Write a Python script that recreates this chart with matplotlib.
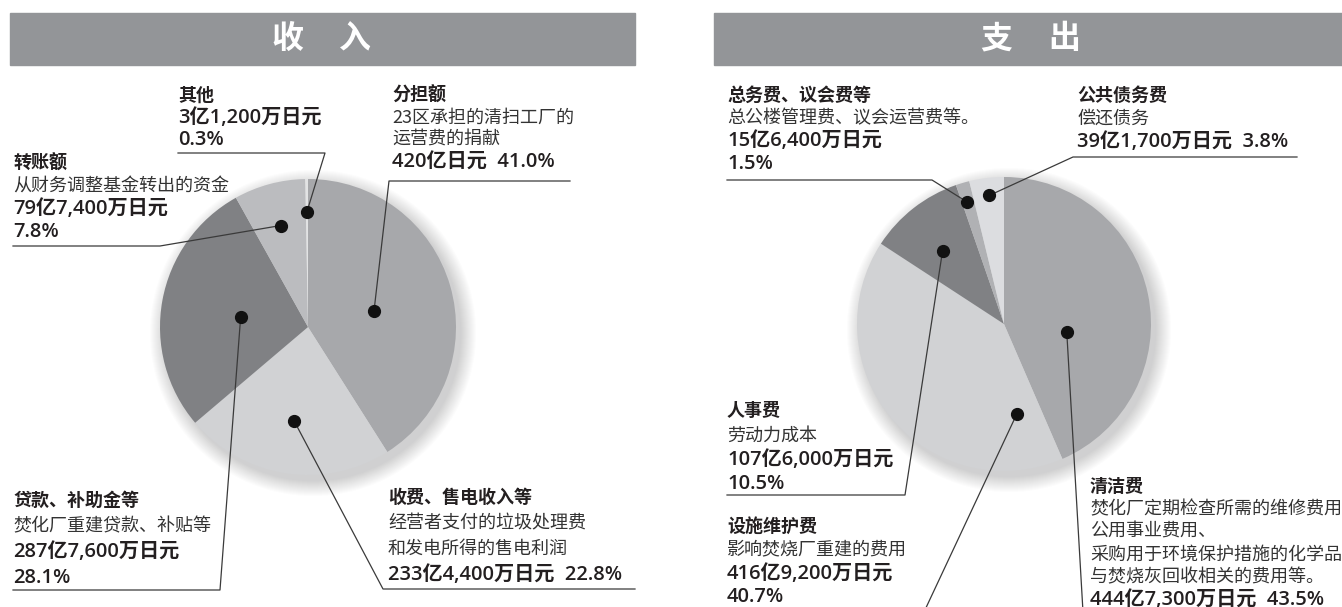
import matplotlib
matplotlib.use("Agg")
import matplotlib.pyplot as plt
from matplotlib.patches import Circle, Rectangle
import numpy as np

plt.rcParams['font.family'] = ['Noto Sans CJK SC', 'DejaVu Sans']

W, H = 1342, 607

# ---- data ----
income_names = ['分担额', '收费、售电收入等', '贷款、补助金等', '转账额', '其他']
income_pct = [41.0, 22.8, 28.1, 7.8, 0.3]
income_desc = [
    ['23区承担的清扫工厂的', '运营费的捐献'],
    ['经营者支付的垃圾处理费', '和发电所得的售电利润'],
    ['焚化厂重建贷款、补贴等'],
    ['从财务调整基金转出的资金'],
    [],
]
income_amount = [
    ['420亿日元  41.0%'],
    ['233亿4,400万日元  22.8%'],
    ['287亿7,600万日元', '28.1%'],
    ['79亿7,400万日元', '7.8%'],
    ['3亿1,200万日元', '0.3%'],
]

spend_names = ['清洁费', '设施维护费', '人事费', '总务费、议会费等', '公共债务费']
spend_pct = [43.5, 40.7, 10.5, 1.5, 3.8]
spend_desc = [
    ['焚化厂定期检查所需的维修费用', '公用事业费用、', '采购用于环境保护措施的化学品', '与焚烧灰回收相关的费用等。'],
    ['影响焚烧厂重建的费用'],
    ['劳动力成本'],
    ['总公楼管理费、议会运营费等。'],
    ['偿还债务'],
]
spend_amount = [
    ['444亿7,300万日元  43.5%'],
    ['416亿9,200万日元', '40.7%'],
    ['107亿6,000万日元', '10.5%'],
    ['15亿6,400万日元', '1.5%'],
    ['39亿1,700万日元  3.8%'],
]

# ---- styles / layout (pixel coords, y from top) ----
MID, LIGHT, DARK, GREYB, PALE = '#a7a8ab', '#d1d2d4', '#808184', '#bbbcbf', '#e2e3e4'
income_colors = [MID, LIGHT, DARK, GREYB, PALE]
spend_colors = [MID, LIGHT, DARK, '#b0b1b4', '#dcdde0']

# dot position: (angle clockwise from top in deg, fraction of radius)
income_dots = [(76, 0.46), (188.5, 0.64), (278.5, 0.46), (345, 0.71), (359.5, 0.78)]
spend_dots = [(97, 0.43), (172, 0.62), (320, 0.65), (343, 0.87), (353.4, 0.88)]

# text block: (x, first line centre y, line step); leader: elbow points then end
income_text = [(392, 95, 22.5), (388, 497, 26), (13, 500, 26), (13, 163, 23), (178, 95, 22.5)]
income_lead = [
    [(389, 181), (570, 181)],
    [(383, 589), (635, 589)],
    [(220, 590), (13, 590)],
    [(160, 246), (13, 246)],
    [(325, 153), (178, 153)],
]
spend_text = [(1090, 487, 22.5), (727, 526, 23.8), (727, 411, 24.3), (727, 95, 23), (1077, 95, 23.5)]
spend_lead = [
    [(1083, 612)],
    [(924, 612)],
    [(905, 495), (727, 495)],
    [(932, 180), (727, 180)],
    [(1073, 157), (1297, 157)],
]

AMOUNT_FONT = ['Open Sans', 'Noto Sans CJK SC', 'DejaVu Sans']

fig = plt.figure(figsize=(W / 100, H / 100), dpi=100)
ax = fig.add_axes([0, 0, 1, 1])


def Y(y):
    return H - y


def panel(title, x0, x1, tx_c, cx, cy, r, pct, colors, names, desc, amount, dots, text, lead):
    # title bar
    ax.add_patch(Rectangle((x0, Y(65)), x1 - x0, 52, color='#939598', zorder=1))
    for ch, off in zip(title, (-34, 34)):
        ax.text(tx_c + off, Y(39), ch, color='white', fontsize=23,
                fontweight='bold', ha='center', va='center', zorder=2)
    # soft shadow
    for i in range(16):
        ax.add_patch(Circle((cx + 5, Y(cy) - 6), r + 15 - i, color='#6d6e71',
                            alpha=0.02, lw=0, zorder=1))
    ax.pie(pct, colors=colors, startangle=90, counterclock=False,
           center=(cx, Y(cy)), radius=r, frame=True,
           wedgeprops=dict(linewidth=0, zorder=3))
    for i, name in enumerate(names):
        ang, fr = dots[i]
        a = np.deg2rad(ang)
        dx, dy = cx + fr * r * np.sin(a), Y(cy) + fr * r * np.cos(a)
        pts = [(dx, dy)] + [(px, Y(py)) for px, py in lead[i]]
        xs, ys = zip(*pts)
        ax.plot(xs, ys, color='#3a3a3a', lw=0.9, zorder=5, clip_on=False)
        ax.plot(dx, dy, 'o', color='#111111', ms=8.5, zorder=6)
        tx, ty, step = text[i]
        ax.text(tx, Y(ty), name, fontsize=13, fontweight='bold', color='#231f20',
                ha='left', va='center', zorder=7)
        k = 1
        for line in desc[i]:
            ax.text(tx, Y(ty + k * step), line, fontsize=13, color='#333333',
                    ha='left', va='center', zorder=7)
            k += 1
        for line in amount[i]:
            ax.text(tx, Y(ty + k * step), line, fontsize=14.5, fontweight='semibold',
                    family=AMOUNT_FONT, color='#231f20',
                    ha='left', va='center', zorder=7)
            k += 1


panel('收入', 10, 635, 321, 308, 327, 148, income_pct, income_colors, income_names,
      income_desc, income_amount, income_dots, income_text, income_lead)
panel('支出', 714, 1342, 1030, 1004, 324, 147, spend_pct, spend_colors, spend_names,
      spend_desc, spend_amount, spend_dots, spend_text, spend_lead)

ax.set_xlim(0, W)
ax.set_ylim(0, H)
ax.set_aspect('auto')
ax.axis('off')
fig.savefig('out.png', dpi=100)
